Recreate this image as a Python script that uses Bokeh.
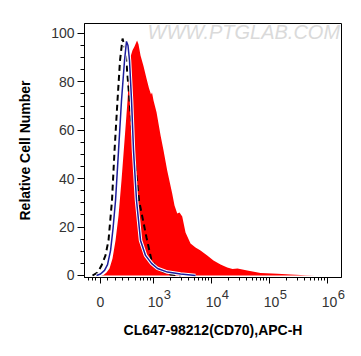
import math
from bokeh.plotting import figure
from bokeh.models import Range1d, FixedTicker, Label, LinearAxis
from bokeh.embed import file_html
from bokeh.resources import INLINE

# x values are channel positions on the biexponential axis, in decades (10^3 -> 3)
red_x = [2.086, 2.138, 2.19, 2.241, 2.293, 2.345, 2.397, 2.448, 2.5, 2.552, 2.598,
         2.638, 2.672, 2.716, 2.741, 2.776, 2.828, 2.879, 2.922, 2.957, 2.974, 3.0,
         3.052, 3.121, 3.172, 3.236, 3.322, 3.362, 3.409, 3.448, 3.495, 3.552, 3.638,
         3.724, 3.81, 3.926, 4.034, 4.155, 4.271, 4.362, 4.448, 4.616, 4.845, 5.138,
         5.362, 5.62, 5.79]
red_y = [0, 0.2, 1.2, 2.9, 7.0, 14.5, 24.8, 39.3, 55.8, 72.3, 90.0,
         93.0, 94.6, 97.1, 95.5, 90.9, 86.4, 81.4, 77.3, 74.8, 75.6, 72.3,
         67.4, 57.9, 51.7, 43.4, 33.9, 28.9, 25.6, 26.0, 24.4, 17.8, 13.2,
         11.6, 10.3, 8.3, 6.2, 4.5, 3.3, 2.7, 2.9, 2.1, 1.0, 0.7,
         0.4, 0.1, 0]

blue_x = [2.017, 2.086, 2.155, 2.207, 2.259, 2.302, 2.345, 2.397, 2.448, 2.5, 2.534,
          2.56, 2.586, 2.621, 2.655, 2.707, 2.776, 2.862, 2.966, 3.069, 3.241, 3.466, 3.724]
blue_y = [0, 0.6, 2.1, 4.5, 10.3, 19.4, 31.0, 51.7, 72.3, 88.8, 96.7,
          95.0, 88.8, 72.3, 51.7, 31.0, 14.5, 8.3, 5.0, 2.9, 1.4, 0.6, 0]

dash_x = [1.948, 2.034, 2.103, 2.172, 2.224, 2.284, 2.328, 2.379, 2.422, 2.466,
          2.517, 2.586, 2.655, 2.75, 2.879, 2.966, 3.052, 3.155, 3.293, 3.466]
dash_y = [0, 1.2, 4.1, 8.3, 14.5, 31.0, 51.7, 72.3, 88.8, 97.9,
          93.0, 72.3, 51.7, 31.0, 15.7, 6.2, 3.3, 1.7, 0.4, 0]

xtick_pos = [2.086, 3, 4, 5, 6]
xtick_base = ["0", "10", "10", "10", "10"]
xtick_exp = [3, 4, 5, 6]          # exponents shown on the 10^n ticks
xminor_lin = [1.879, 1.94, 2.0, 2.20, 2.345, 2.46, 2.574, 2.69, 2.776, 2.833, 2.90, 2.948]
ytick_pos = [0, 20, 40, 60, 80, 100]

x_title = "CL647-98212(CD70),APC-H"
y_title = "Relative Cell Number"
watermark = "WWW.PTGLAB.COM"

FONT = "Liberation Sans"
NB = "\u00a0"
X0, X1 = 1.81, 6.241
EXP_SHIFT = 0.24   # exponent sits to the right of its "10"

p = figure(width=361, height=356, output_backend="svg", toolbar_location=None,
           x_range=Range1d(X0, X1), y_range=Range1d(-0.83, 104.1),
           min_border_left=84, min_border_right=20, min_border_top=23,
           min_border_bottom=79)
p.grid.visible = False
p.outline_line_color = "black"
p.outline_line_width = 1
p.background_fill_color = "white"
p.border_fill_color = "white"

p.varea(x=red_x, y1=0, y2=red_y, fill_color="#ff0000")
p.line(dash_x, dash_y, line_color="black", line_width=2, line_dash="6 4")
p.line(blue_x, blue_y, line_color="white", line_width=3.5)
p.line(blue_x, blue_y, line_color="#1c1c9c", line_width=1.5)

minor_x = list(xminor_lin)
for d in (3, 4, 5):
    for k in range(2, 10):
        minor_x.append(d + math.log10(k))
p.xaxis.ticker = FixedTicker(ticks=xtick_pos, minor_ticks=minor_x)
p.yaxis.ticker = FixedTicker(ticks=ytick_pos, minor_ticks=[v for v in range(0, 105, 5) if v % 20])

for ax in (p.xaxis[0], p.yaxis[0]):
    ax.axis_line_color = "black"
    ax.major_tick_line_color = "black"
    ax.minor_tick_line_color = "black"
    ax.major_tick_in = 0
    ax.minor_tick_in = 0
    ax.major_label_text_font = FONT
    ax.major_label_text_font_size = "14px"
    ax.major_label_text_color = "#333333"
    ax.axis_label_text_font = FONT
    ax.axis_label_text_font_style = "bold"
    ax.axis_label_text_font_size = "14px"
    ax.axis_label_text_color = "black"

p.yaxis.major_tick_out = 7
p.yaxis.minor_tick_out = 4
p.yaxis.major_label_standoff = 3
p.yaxis.axis_label = y_title
p.yaxis.axis_label_standoff = 15

p.xaxis.major_tick_out = 6
p.xaxis.minor_tick_out = 3
p.xaxis.major_label_standoff = 10
p.xaxis.major_label_overrides = {pos: (base if base == "0" else NB + base)
                                 for pos, base in zip(xtick_pos, xtick_base)}

# second bottom axis carrying only the raised exponents
p.extra_x_ranges = {"exp": Range1d(X0 - EXP_SHIFT, X1 - EXP_SHIFT)}
ax2 = LinearAxis(x_range_name="exp", ticker=FixedTicker(ticks=xtick_exp))
ax2.axis_line_color = None
ax2.major_tick_line_color = None
ax2.minor_tick_line_color = None
ax2.major_tick_out = 0
ax2.major_tick_in = 0
ax2.minor_tick_out = 0
ax2.major_label_standoff = -23
ax2.major_label_text_font = FONT
ax2.major_label_text_font_size = "13px"
ax2.major_label_text_color = "#333333"
ax2.axis_label = x_title
ax2.axis_label_text_font = FONT
ax2.axis_label_text_font_style = "bold"
ax2.axis_label_text_font_size = "14px"
ax2.axis_label_text_color = "black"
ax2.axis_label_standoff = 20
p.add_layout(ax2, "below")

p.add_layout(Label(x=63, y=246, x_units="screen", y_units="screen", text=watermark,
                   text_baseline="middle", text_font=FONT, text_font_style="italic",
                   text_font_size="20px", text_color="#dadada"))

open("out.html", "w").write(file_html(p, INLINE))
